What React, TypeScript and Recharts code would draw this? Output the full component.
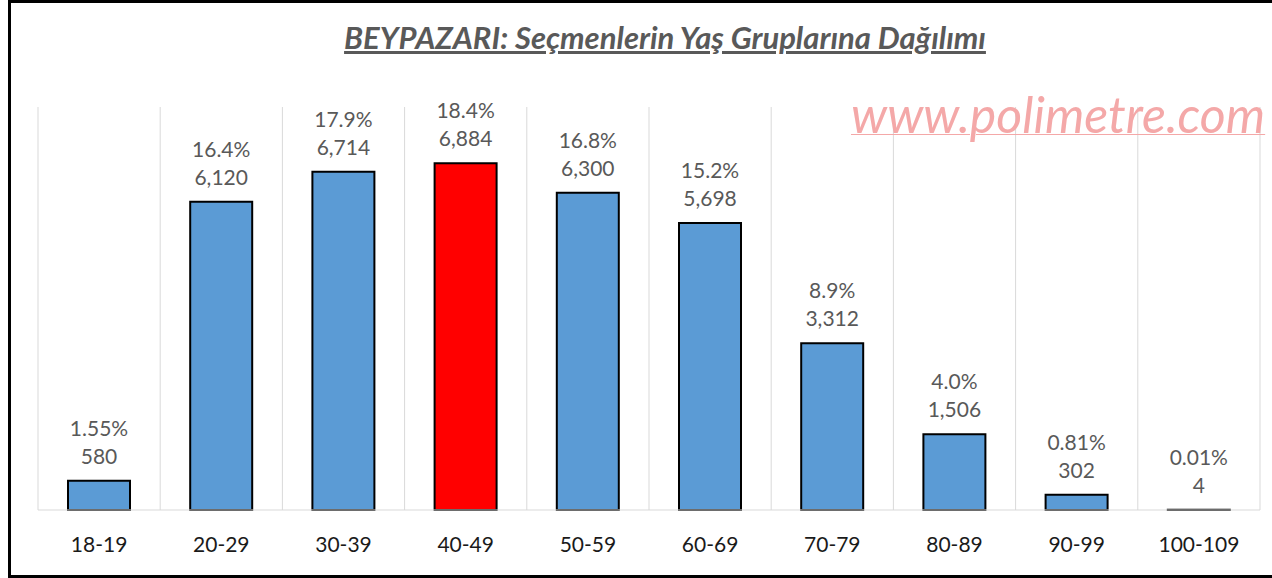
import { BarChart, Bar, XAxis, YAxis, CartesianGrid, Cell, LabelList } from "recharts";

const groups = ["18-19", "20-29", "30-39", "40-49", "50-59", "60-69", "70-79", "80-89", "90-99", "100-109"];
const voters = [580, 6120, 6714, 6884, 6300, 5698, 3312, 1506, 302, 4];
const shares = ["1.55%", "16.4%", "17.9%", "18.4%", "16.8%", "15.2%", "8.9%", "4.0%", "0.81%", "0.01%"];
const highlight = "40-49";

const data = groups.map((g, i) => ({ group: g, voters: voters[i], share: shares[i] }));

const font = "Lato, 'Open Sans', sans-serif";

export default function App() {
  return (
    <div
      style={{
        position: "absolute",
        left: 8,
        top: 0,
        width: 1272,
        height: 578,
        boxSizing: "border-box",
        border: "3px solid #000",
        background: "#fff",
        fontFamily: font,
      }}
    >
      <div
        style={{
          position: "absolute",
          left: 0,
          width: 1308,
          top: 16,
          textAlign: "center",
          fontSize: 31,
          fontWeight: 700,
          fontStyle: "italic",
          textDecoration: "underline",
          color: "#595959",
          lineHeight: 1.2,
        }}
      >
        BEYPAZARI: Seçmenlerin Yaş Gruplarına Dağılımı
      </div>
      <div
        style={{
          position: "absolute",
          left: 840,
          top: 86,
          fontSize: 50,
          fontStyle: "italic",
          textDecoration: "underline",
          textDecorationThickness: 1,
          color: "#F4A8A8",
          zIndex: 2,
          lineHeight: 1,
        }}
      >
        www.polimetre.com
      </div>
      <BarChart
        width={1258}
        height={572}
        data={data}
        margin={{ top: 104, right: 9, bottom: 15, left: 27 }}
      >
        <CartesianGrid
          horizontal={false}
          stroke="#D9D9D9"
          verticalCoordinatesGenerator={({ offset }: any) =>
            groups.map((_, i) => offset.left + (i * offset.width) / groups.length).concat(offset.left + offset.width)
          }
        />
        <XAxis
          dataKey="group"
          height={50}
          tickLine={false}
          axisLine={{ stroke: "#D9D9D9" }}
          tick={{ fill: "#1a1a1a", fontSize: 21, fontFamily: font }}
          tickMargin={21}
        />
        <YAxis hide domain={[0, 8000]} />
        <Bar dataKey="voters" barSize={62} stroke="#000" strokeWidth={2} isAnimationActive={false}>
          {data.map((d) => (
            <Cell key={d.group} fill={d.group === highlight ? "#FF0000" : "#5B9BD5"} />
          ))}
          <LabelList
            dataKey="voters"
            position="top"
            offset={17}
            formatter={(v: any) => Number(v).toLocaleString("en-US")}
            style={{ fill: "#595959", fontSize: 21, fontFamily: font, stroke: "none" }}
          />
          <LabelList
            dataKey="share"
            position="top"
            offset={45}
            style={{ fill: "#595959", fontSize: 21, fontFamily: font, stroke: "none" }}
          />
        </Bar>
      </BarChart>
    </div>
  );
}
